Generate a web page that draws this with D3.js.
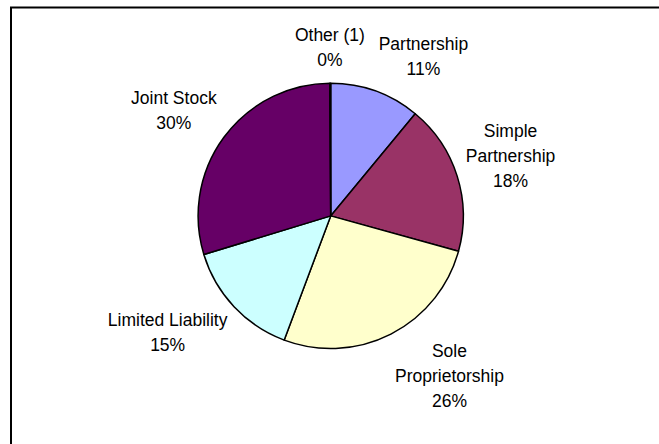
<!DOCTYPE html>
<html><head><meta charset="utf-8">
<script src="https://cdn.jsdelivr.net/npm/d3@7"></script>
<style>html,body{margin:0;padding:0;background:#fff;} svg{display:block}</style>
</head><body>
<script>
// ---- data ----
const categories = ["Partnership", "Simple Partnership", "Sole Proprietorship", "Limited Liability", "Joint Stock", "Other (1)"];
const values = [11.0, 18.3, 26.4, 14.6, 29.6, 0.1];
const wrapped = [false, true, true, false, false, false];
const colors = ["#9999FF", "#993366", "#FFFFCC", "#CCFFFF", "#660066", "#FF8080"];

const W = 659, H = 444;
const cx = 330.7, cy = 215.9, R = 132.6;
const labelDistX = R + 9, labelDistY = R + 14.5, labelShiftY = -2.5;
const fontSize = 17.5, lineH = 25, capH = 12.6;

const svg = d3.select("body").append("svg").attr("width", W).attr("height", H);
svg.append("rect").attr("width", W).attr("height", H).attr("fill", "#fff");

// chart area border (top and left edges visible)
svg.append("path").attr("d", "M11,444 L11,7.5 L659,7.5")
  .attr("fill", "none").attr("stroke", "#000").attr("stroke-width", 2);

const total = d3.sum(values);
const data = categories.map((c, i) => ({name: c, value: values[i], color: colors[i], wrap: wrapped[i]}));
const pie = d3.pie().value(d => d.value).sort(null).startAngle(0).endAngle(2 * Math.PI);
const arc = d3.arc().innerRadius(0).outerRadius(R);
const arcs = pie(data);

const g = svg.append("g").attr("transform", `translate(${cx},${cy})`);
g.selectAll("path").data(arcs).join("path")
  .attr("d", arc)
  .attr("fill", d => d.data.color)
  .attr("stroke", "#000").attr("stroke-width", 1.5).attr("stroke-linejoin", "round");

const fmt = v => Math.round(v / total * 100) + "%";

arcs.forEach(a => {
  const mid = (a.startAngle + a.endAngle) / 2;
  const ax = cx + labelDistX * Math.sin(mid);
  const ay = cy - labelDistY * Math.cos(mid) + labelShiftY;
  const name = a.data.name;
  let lines;
  if (a.data.wrap) {
    const k = name.indexOf(" ");
    lines = [name.slice(0, k), name.slice(k + 1)];
  } else lines = [name];
  lines.push(fmt(a.data.value));
  const t = svg.append("text")
    .attr("font-family", "'Liberation Sans', Arial, sans-serif")
    .attr("font-size", fontSize).attr("fill", "#000").attr("text-anchor", "middle");
  const spans = lines.map(l => t.append("tspan").text(l));
  const w = d3.max(spans, s => s.node().getComputedTextLength());
  const h = capH + (lines.length - 1) * lineH;
  const fx = Math.max(-1, Math.min(1, Math.sin(mid) * 3));
  const fy = Math.max(-1, Math.min(1, -Math.cos(mid) * 1.4));
  const bx = ax + fx * w / 2;
  const by = ay + fy * h / 2;
  const top = by - h / 2;
  spans.forEach((s, i) => s.attr("x", bx).attr("y", top + capH + i * lineH));
});
</script>
</body></html>
